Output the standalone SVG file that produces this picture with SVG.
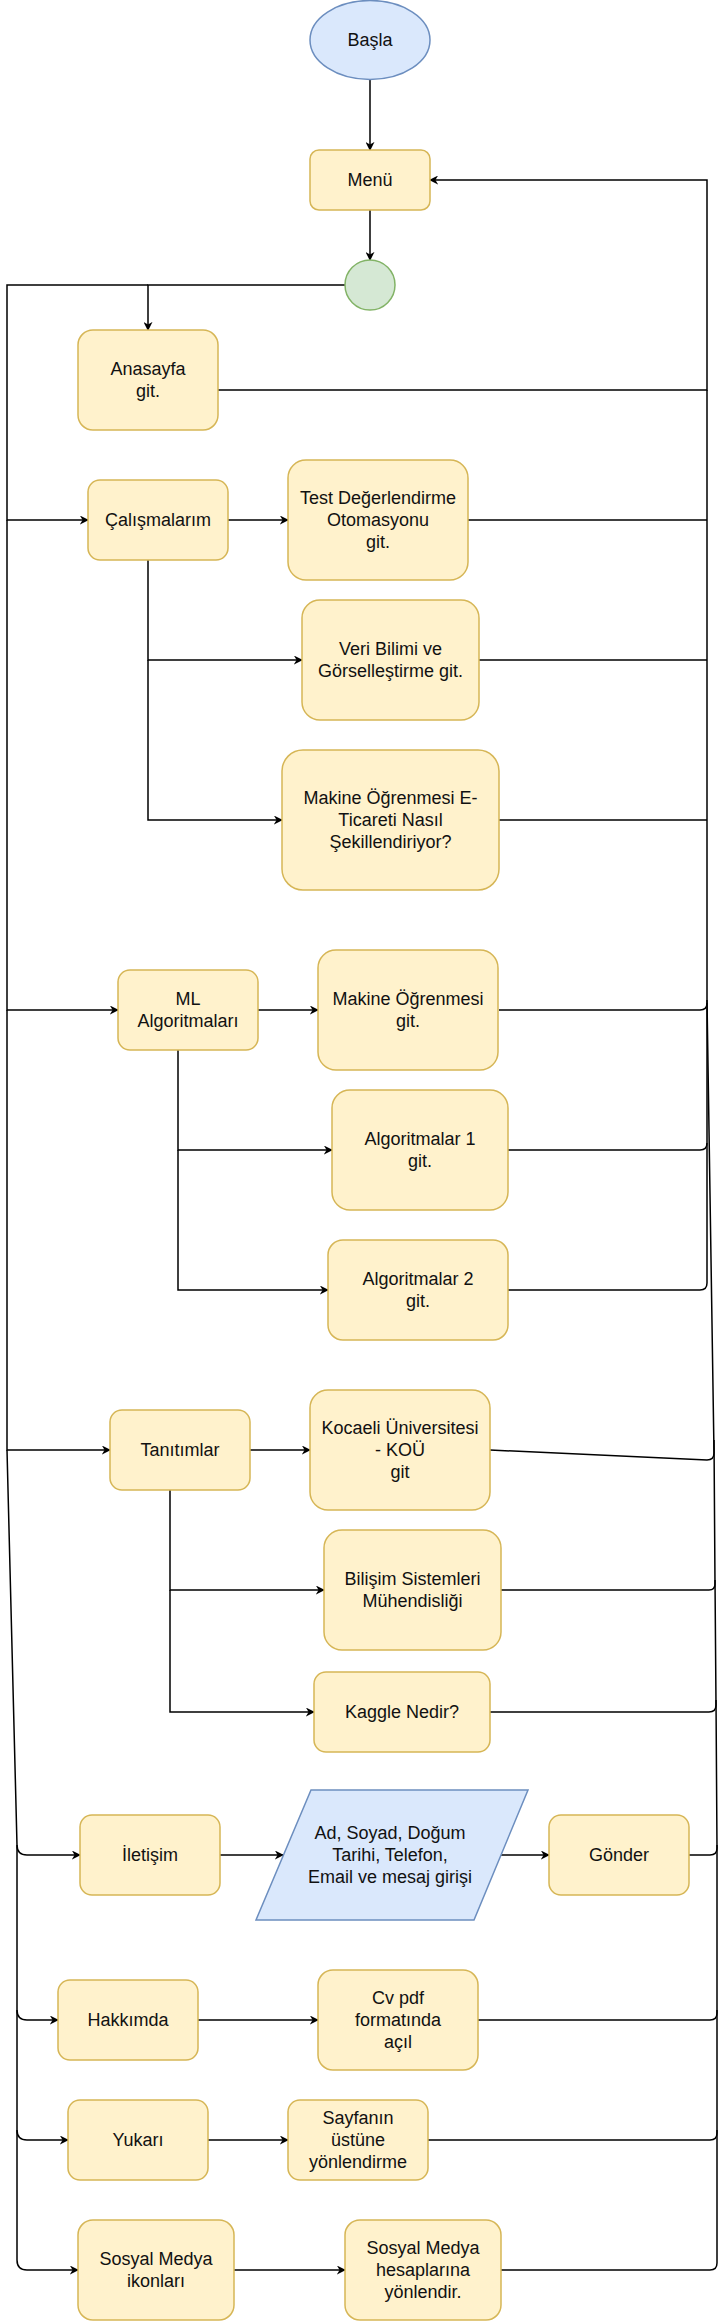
<svg xmlns="http://www.w3.org/2000/svg" width="720" height="2321" viewBox="0 0 720 2321">
<style>
.n{fill:#fff2cc;stroke:#d6b656;stroke-width:1.5}
.b{fill:#dae8fc;stroke:#6c8ebf;stroke-width:1.5}
.g{fill:#d5e8d4;stroke:#82b366;stroke-width:1.5}
.t{font-family:"Liberation Sans",Arial,sans-serif;font-size:18px;fill:#111;text-anchor:middle}
.c{fill:none;stroke:#000;stroke-width:1.5}
.a{marker-end:url(#ar)}
</style>
<defs>
<marker id="ar" viewBox="0 0 10 10" refX="9" refY="5" markerWidth="9" markerHeight="9" markerUnits="userSpaceOnUse" orient="auto">
<path d="M0,0 L10,5 L0,10 L3,5 z" fill="#000"/>
</marker>
</defs>
<rect width="720" height="2321" fill="#fff"/>
<g id="connectors">
<path class="c a" d="M370,80 V150"/>
<path class="c a" d="M370,210 V260"/>
<path class="c a" d="M345,285 H148 V330"/>
<path class="c a" d="M148,285 H7 V520 H88"/>
<path class="c a" d="M7,520 V1010 H118"/>
<path class="c a" d="M7,1010 V1450 H110"/>
<path class="c a" d="M7,1450 L17,1845 Q17,1855 27,1855 H80"/>
<path class="c a" d="M17,1845 V2010 Q17,2020 27,2020 H58"/>
<path class="c a" d="M17,2010 V2130 Q17,2140 27,2140 H68"/>
<path class="c a" d="M17,2130 V2260 Q17,2270 27,2270 H78"/>
<path class="c a" d="M228,520 H288"/>
<path class="c a" d="M148,560 V660 H302"/>
<path class="c a" d="M148,660 V820 H282"/>
<path class="c a" d="M258,1010 H318"/>
<path class="c a" d="M178,1050 V1150 H332"/>
<path class="c a" d="M178,1150 V1290 H328"/>
<path class="c a" d="M250,1450 H310"/>
<path class="c a" d="M170,1490 V1590 H324"/>
<path class="c a" d="M170,1590 V1712 H314"/>
<path class="c a" d="M220,1855 H283"/>
<path class="c a" d="M501,1855 H549"/>
<path class="c a" d="M198,2020 H318"/>
<path class="c a" d="M208,2140 H288"/>
<path class="c a" d="M234,2270 H345"/>
<path class="c a" d="M218,390 H707 V180 H430"/>
<path class="c" d="M468,520 H707"/>
<path class="c" d="M479,660 H707"/>
<path class="c" d="M499,820 H707"/>
<path class="c" d="M499,1010 H700 Q707,1010 707,1003"/>
<path class="c" d="M508,1150 H700 Q707,1150 707,1143"/>
<path class="c" d="M508,1290 H700 Q707,1290 707,1283 V390"/>
<path class="c" d="M490,1450 L707,1460 Q714,1460 714,1453 L707,1000"/>
<path class="c" d="M501,1590 H709 Q715,1590 715,1584 L714,1440"/>
<path class="c" d="M490,1712 H709 Q716,1712 716,1705 L715,1580"/>
<path class="c" d="M689,1855 H710 Q717,1855 717,1848 L716,1700"/>
<path class="c" d="M478,2020 H710 Q717,2020 717,2013 V1845"/>
<path class="c" d="M428,2140 H710 Q717,2140 717,2133 V2010"/>
<path class="c" d="M501,2270 H710 Q717,2270 717,2263 V2130"/>
</g>
<g id="basla"><ellipse class="b" cx="370" cy="40" rx="60" ry="39.5"/><text class="t" x="370" y="46">Başla</text></g>
<g id="menu"><rect class="n" x="310" y="150" width="120" height="60" rx="9"/><text class="t" x="370" y="186">Menü</text></g>
<g id="junction"><circle class="g" cx="370" cy="285" r="25"/></g>
<g id="anasayfa"><rect class="n" x="78" y="330" width="140" height="100" rx="15"/><text class="t" x="148" y="375">Anasayfa</text><text class="t" x="148" y="397">git.</text></g>
<g id="calismalarim"><rect class="n" x="88" y="480" width="140" height="80" rx="12"/><text class="t" x="158" y="526">Çalışmalarım</text></g>
<g id="test"><rect class="n" x="288" y="460" width="180" height="120" rx="18"/><text class="t" x="378" y="504">Test Değerlendirme</text><text class="t" x="378" y="526">Otomasyonu</text><text class="t" x="378" y="548">git.</text></g>
<g id="veri"><rect class="n" x="302" y="600" width="177" height="120" rx="18"/><text class="t" x="390.5" y="655">Veri Bilimi ve</text><text class="t" x="390.5" y="677">Görselleştirme git.</text></g>
<g id="makine_e"><rect class="n" x="282" y="750" width="217" height="140" rx="21"/><text class="t" x="390.5" y="804">Makine Öğrenmesi E-</text><text class="t" x="390.5" y="826">Ticareti Nasıl</text><text class="t" x="390.5" y="848">Şekillendiriyor?</text></g>
<g id="ml"><rect class="n" x="118" y="970" width="140" height="80" rx="12"/><text class="t" x="188" y="1005">ML</text><text class="t" x="188" y="1027">Algoritmaları</text></g>
<g id="makine_og"><rect class="n" x="318" y="950" width="180" height="120" rx="18"/><text class="t" x="408" y="1005">Makine Öğrenmesi</text><text class="t" x="408" y="1027">git.</text></g>
<g id="alg1"><rect class="n" x="332" y="1090" width="176" height="120" rx="18"/><text class="t" x="420" y="1145">Algoritmalar 1</text><text class="t" x="420" y="1167">git.</text></g>
<g id="alg2"><rect class="n" x="328" y="1240" width="180" height="100" rx="15"/><text class="t" x="418" y="1285">Algoritmalar 2</text><text class="t" x="418" y="1307">git.</text></g>
<g id="tanitimlar"><rect class="n" x="110" y="1410" width="140" height="80" rx="12"/><text class="t" x="180" y="1456">Tanıtımlar</text></g>
<g id="kocaeli"><rect class="n" x="310" y="1390" width="180" height="120" rx="18"/><text class="t" x="400" y="1434">Kocaeli Üniversitesi</text><text class="t" x="400" y="1456">- KOÜ</text><text class="t" x="400" y="1478">git</text></g>
<g id="bilisim"><rect class="n" x="324" y="1530" width="177" height="120" rx="18"/><text class="t" x="412.5" y="1585">Bilişim Sistemleri</text><text class="t" x="412.5" y="1607">Mühendisliği</text></g>
<g id="kaggle"><rect class="n" x="314" y="1672" width="176" height="80" rx="12"/><text class="t" x="402" y="1718">Kaggle Nedir?</text></g>
<g id="iletisim"><rect class="n" x="80" y="1815" width="140" height="80" rx="12"/><text class="t" x="150" y="1861">İletişim</text></g>
<g id="giris"><polygon class="b" points="311,1790 528,1790 474,1920 256,1920"/><text class="t" x="390" y="1839">Ad, Soyad, Doğum</text><text class="t" x="390" y="1861">Tarihi, Telefon,</text><text class="t" x="390" y="1883">Email ve mesaj girişi</text></g>
<g id="gonder"><rect class="n" x="549" y="1815" width="140" height="80" rx="12"/><text class="t" x="619" y="1861">Gönder</text></g>
<g id="hakkimda"><rect class="n" x="58" y="1980" width="140" height="80" rx="12"/><text class="t" x="128" y="2026">Hakkımda</text></g>
<g id="cv"><rect class="n" x="318" y="1970" width="160" height="100" rx="15"/><text class="t" x="398" y="2004">Cv pdf</text><text class="t" x="398" y="2026">formatında</text><text class="t" x="398" y="2048">açıl</text></g>
<g id="yukari"><rect class="n" x="68" y="2100" width="140" height="80" rx="12"/><text class="t" x="138" y="2146">Yukarı</text></g>
<g id="sayfanin"><rect class="n" x="288" y="2100" width="140" height="80" rx="12"/><text class="t" x="358" y="2124">Sayfanın</text><text class="t" x="358" y="2146">üstüne</text><text class="t" x="358" y="2168">yönlendirme</text></g>
<g id="sosyal_ikon"><rect class="n" x="78" y="2220" width="156" height="100" rx="15"/><text class="t" x="156" y="2265">Sosyal Medya</text><text class="t" x="156" y="2287">ikonları</text></g>
<g id="sosyal_hesap"><rect class="n" x="345" y="2220" width="156" height="100" rx="15"/><text class="t" x="423" y="2254">Sosyal Medya</text><text class="t" x="423" y="2276">hesaplarına</text><text class="t" x="423" y="2298">yönlendir.</text></g>
</svg>
